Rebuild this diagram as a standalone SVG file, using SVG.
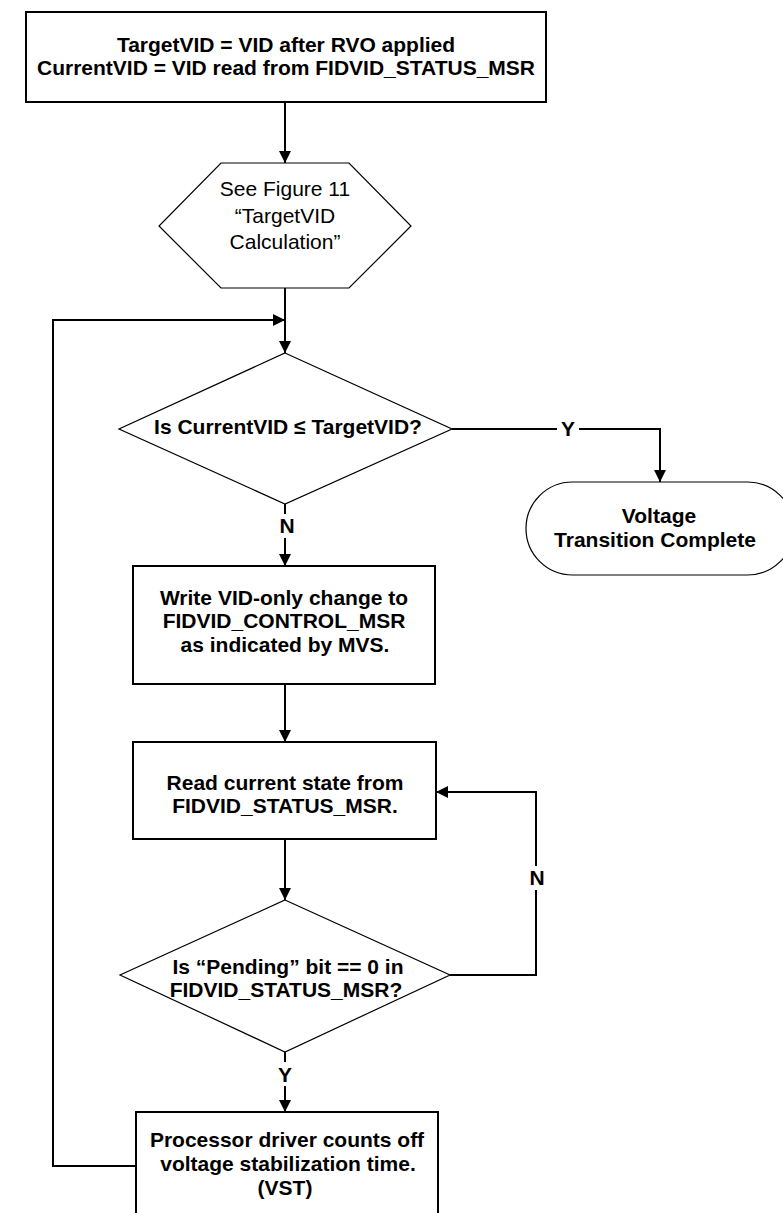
<svg xmlns="http://www.w3.org/2000/svg" width="783" height="1213" viewBox="0 0 783 1213">
<defs>
<marker id="arr" markerUnits="userSpaceOnUse" markerWidth="12" markerHeight="12" refX="12" refY="6" orient="auto">
<path d="M0,0 L12,6 L0,12 z" fill="#000"/>
</marker>
<style>
.box{fill:#fff;stroke:#000;stroke-width:2}
.shape{fill:#fff;stroke:#000;stroke-width:1.2}
.b{font-family:"Liberation Sans",Arial,sans-serif;font-weight:bold;font-size:21px;text-anchor:middle;fill:#000}
.r{font-family:"Liberation Sans",Arial,sans-serif;font-size:21px;text-anchor:middle;fill:#000}
.c{fill:none;stroke:#000;stroke-width:2}
.lbl{fill:#fff;stroke:none}
</style>
</defs>
<rect width="783" height="1213" fill="#fff"/>
<g id="connectors">
<path class="c" d="M285,102 V163" marker-end="url(#arr)"/>
<path class="c" d="M285,288 V353" marker-end="url(#arr)"/>
<path class="c" d="M136,1166 H53 V320 H285" stroke-width="1.6" marker-end="url(#arr)"/>
<path class="c" d="M452,429 H660 V482" marker-end="url(#arr)"/>
<path class="c" d="M285,504 V566" marker-end="url(#arr)"/>
<path class="c" d="M285,684 V742" marker-end="url(#arr)"/>
<path class="c" d="M285,839 V900" marker-end="url(#arr)"/>
<path class="c" d="M450,975 H536 V792 H436" marker-end="url(#arr)"/>
<path class="c" d="M285,1052 V1112" marker-end="url(#arr)"/>
<rect class="lbl" x="557" y="418" width="22" height="22"/>
<text class="b" x="568" y="436">Y</text>
<rect class="lbl" x="276" y="514" width="20" height="24"/>
<text class="b" x="287" y="533">N</text>
<rect class="lbl" x="526" y="866" width="20" height="24"/>
<text class="b" x="537" y="885">N</text>
<rect class="lbl" x="275" y="1062" width="20" height="24"/>
<text class="b" x="285" y="1082">Y</text>
</g>
<g id="start">
<rect class="box" x="26" y="12" width="520" height="90"/>
<text class="b" x="286" y="52">TargetVID = VID after RVO applied</text>
<text class="b" x="286" y="75">CurrentVID = VID read from FIDVID_STATUS_MSR</text>
</g>
<g id="ref">
<polygon class="shape" points="221,163 349,163 411,226 349,288 221,288 159,226"/>
<text class="r" x="285" y="196">See Figure 11</text>
<text class="r" x="285" y="223">“TargetVID</text>
<text class="r" x="285" y="249">Calculation”</text>
</g>
<g id="decision1">
<polygon class="shape" points="285,353 452,429 285,504 119,429"/>
<text class="b" x="288" y="434">Is CurrentVID ≤ TargetVID?</text>
</g>
<g id="end">
<rect class="shape" x="526" y="482" width="268" height="93" rx="46.5" ry="46.5"/>
<text class="b" x="659" y="523">Voltage</text>
<text class="b" x="655" y="547">Transition Complete</text>
</g>
<g id="write">
<rect class="box" x="133" y="566" width="302" height="118"/>
<text class="b" x="284" y="605">Write VID-only change to</text>
<text class="b" x="284" y="628">FIDVID_CONTROL_MSR</text>
<text class="b" x="285" y="652">as indicated by MVS.</text>
</g>
<g id="read">
<rect class="box" x="133" y="742" width="303" height="97"/>
<text class="b" x="285" y="790">Read current state from</text>
<text class="b" x="285" y="813">FIDVID_STATUS_MSR.</text>
</g>
<g id="decision2">
<polygon class="shape" points="285,900 450,975 285,1052 120,975"/>
<text class="b" x="288" y="974">Is “Pending” bit == 0 in</text>
<text class="b" x="286" y="997">FIDVID_STATUS_MSR?</text>
</g>
<g id="wait">
<rect class="box" x="136" y="1112" width="302" height="130"/>
<text class="b" x="287" y="1147">Processor driver counts off</text>
<text class="b" x="288" y="1171">voltage stabilization time.</text>
<text class="b" x="285" y="1195">(VST)</text>
</g>
</svg>
